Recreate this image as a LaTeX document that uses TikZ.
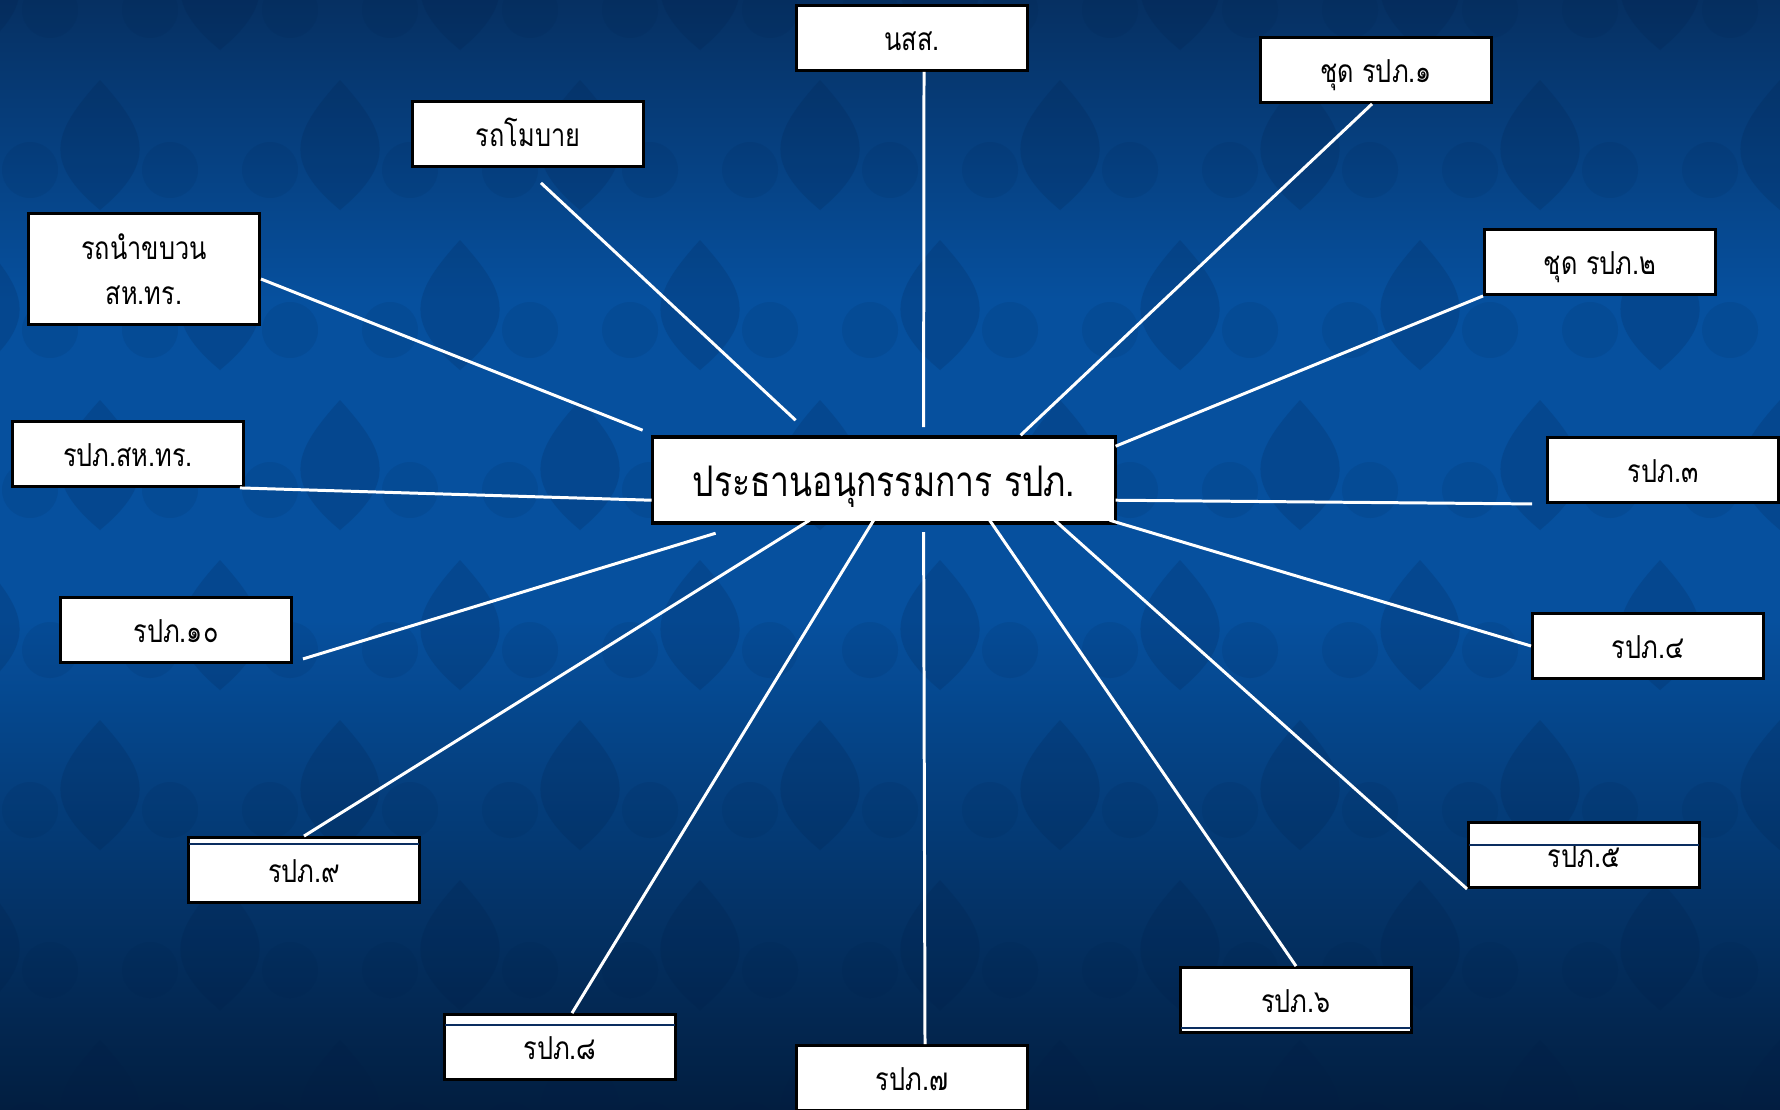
\documentclass[tikz,border=0pt]{standalone}
\usepackage{fontspec}
\setmainfont[Script=Thai, FakeStretch=0.8]{Loma}
\usetikzlibrary{calc}

\definecolor{bgtop}{RGB}{6,48,98}
\definecolor{bgmid}{RGB}{6,80,158}
\definecolor{bgbot}{RGB}{2,30,64}
\definecolor{motif}{RGB}{2,28,68}
\definecolor{seamblue}{RGB}{10,45,95}

\begin{document}
\begin{tikzpicture}[x=0.01cm, y=-0.01cm,
		boxbase/.style={draw=black, line width=0.8pt, fill=white, minimum width=2.31cm, minimum height=0.65cm, inner sep=0pt, font=\fontsize{9}{12.8}\selectfont},
		box/.style={boxbase, text height=9pt, text depth=2pt},
		hub/.style={boxbase, line width=1pt, minimum width=4.63cm, minimum height=0.86cm, text height=12pt, text depth=2.5pt, font=\fontsize{12}{14}\selectfont},
		link/.style={white, line width=0.85pt},
		seam/.style={seamblue, line width=0.5pt}]
		%background
		\useasboundingbox (0,0) rectangle (1780,1109);
		\clip (0,0) rectangle (1780,1109);
		\shade[top color=bgtop, bottom color=bgmid] (0,0) rectangle (1780,300);
		\fill[bgmid] (0,299) rectangle (1780,621);
		\shade[top color=bgmid, bottom color=bgbot] (0,620) rectangle (1780,1109);
		\foreach \row in {0,...,7}{
			\foreach \col in {0,...,8}{
				\pgfmathsetmacro\mx{\col*240+mod(\row,2)*120-20}
				\pgfmathsetmacro\my{\row*160-10}
				\fill[motif, opacity=0.16] (\mx,\my-70) .. controls (\mx+45,\my-20) and (\mx+60,\my+10) .. (\mx,\my+60) .. controls (\mx-60,\my+10) and (\mx-45,\my-20) .. (\mx,\my-70) -- cycle;
				\fill[motif, opacity=0.09] (\mx-70,\my+20) circle (28) (\mx+70,\my+20) circle (28);
			}
		}
		
		%boxes
		\node[hub] (ctr) at (884,480) {ประธานอนุกรรมการ รปภ.};
		\node[box] (nss) at (912,38) {นสส.};
		\node[box] (chud1) at (1376,70) {ชุด รปภ.๑};
		\node[box] (mobile) at (528,134) {รถโมบาย};
		\node[boxbase, minimum height=1.11cm, align=center] (lead) at (144,269) {รถนำขบวน\\สห.ทร.};
		\node[box] (chud2) at (1600,262) {ชุด รปภ.๒};
		\node[box] (sahtr) at (128,454) {รปภ.สห.ทร.};
		\node[box] (r3) at (1663,470) {รปภ.๓};
		\node[box] (r10) at (176,630) {รปภ.๑๐};
		\node[box] (r4) at (1648,646) {รปภ.๔};
		\node[box] (r9) at (304,870) {รปภ.๙};
		\node[box] (r5) at (1584,855) {รปภ.๕};
		\node[box] (r6) at (1296,1000) {รปภ.๖};
		\node[box] (r8) at (560,1047) {รปภ.๘};
		\node[box] (r7) at (912,1078) {รปภ.๗};
		
		%stray lines inside some boxes
		\draw[seam] ($(r9.north west)+(2,8)$) -- ($(r9.north east)+(-2,8)$);
		\draw[seam] ($(r5.north west)+(2,24)$) -- ($(r5.north east)+(-2,24)$);
		\draw[seam] ($(r6.south west)+(2,-6)$) -- ($(r6.south east)+(-2,-6)$);
		\draw[seam] ($(r8.north west)+(2,12)$) -- ($(r8.north east)+(-2,12)$);
		
		%connectors
		\draw[link] ($(nss.south)+(12,0)$) -- ($(ctr.north west)+(273,-8)$);
		\draw[link] ($(chud1.south)+(-4,0)$) -- ($(ctr.north west)+(370,0)$);
		\draw[link] ($(mobile.south)+(13,15)$) -- ($(ctr.north west)+(145,-15)$);
		\draw[link] ($(lead.east)+(0,10)$) -- ($(ctr.north west)+(-8,-5)$);
		\draw[link] (chud2.south west) -- ($(ctr.north west)+(465,11)$);
		\draw[link] ($(sahtr.south east)+(-5,0)$) -- ($(ctr.north west)+(1,65)$);
		\draw[link] ($(r3.south west)+(-14,0)$) -- ($(ctr.north west)+(465,65)$);
		\draw[link] ($(r10.south east)+(10,-5)$) -- ($(ctr.north west)+(65,98)$);
		\draw[link] (r4.west) -- ($(ctr.north west)+(459,85)$);
		\draw[link] (r9.north) -- ($(ctr.north west)+(159,85)$);
		\draw[link] (r5.south west) -- ($(ctr.north west)+(404,85)$);
		\draw[link] (r6.north) -- ($(ctr.north west)+(339,85)$);
		\draw[link] ($(r8.north)+(12,0)$) -- ($(ctr.north west)+(223,85)$);
		\draw[link] ($(r7.north)+(13,0)$) -- ($(ctr.north west)+(273,97)$);
\end{tikzpicture}
\end{document}
